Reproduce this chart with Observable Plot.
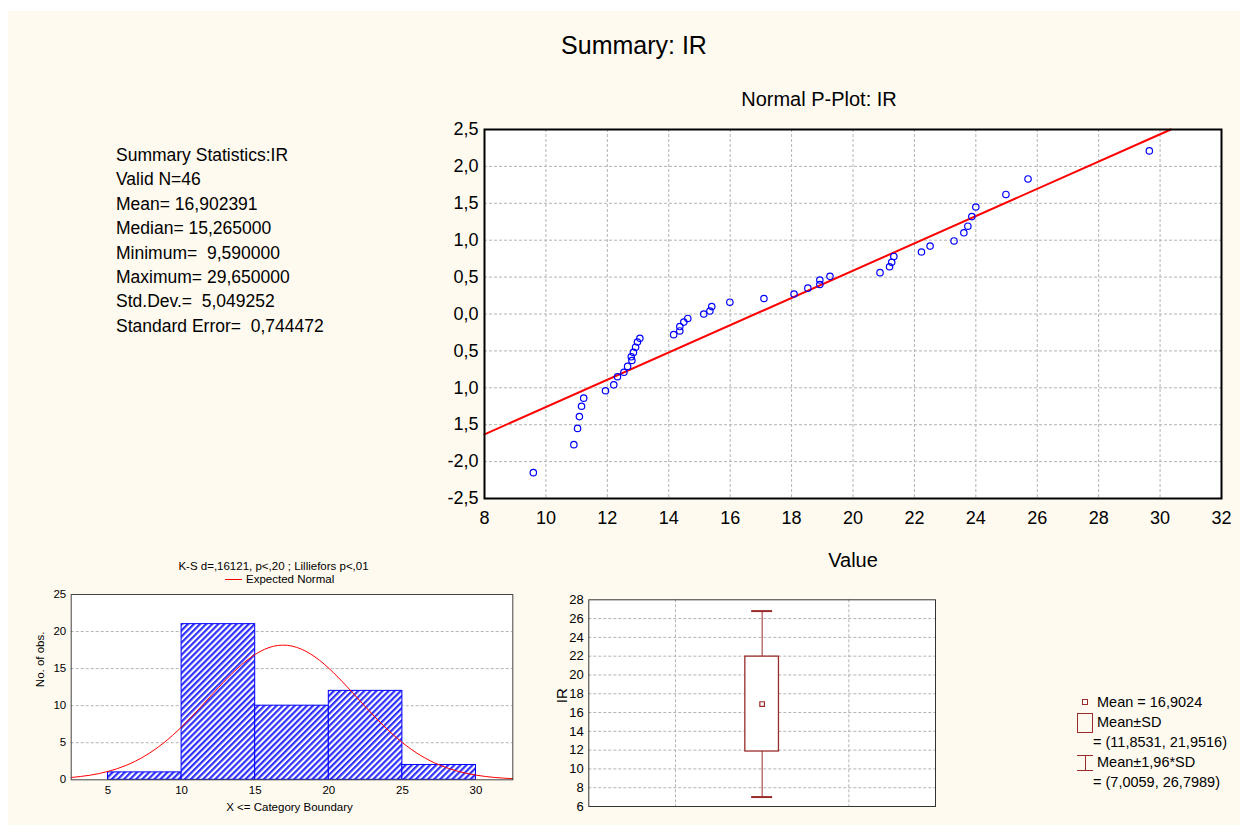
<!DOCTYPE html>
<html><head><meta charset="utf-8">
<script src="https://cdn.jsdelivr.net/npm/d3@7"></script>
<script src="https://cdn.jsdelivr.net/npm/@observablehq/plot@0.6"></script>
<style>
body{margin:0;background:#fff;font-family:"Liberation Sans",Arial,sans-serif;}
#page{position:relative;width:1248px;height:832px;overflow:hidden;}
#bg{position:absolute;left:8px;top:11px;width:1232px;height:814px;background:#fffaef;}
.abs{position:absolute;white-space:pre;color:#000;}
.lg{position:absolute;font-size:14.5px;white-space:pre;transform:translateY(-50%);}
</style></head><body>
<div id="page"><div id="bg"></div>
<div class="abs" id="title" style="left:534px;top:31px;width:200px;text-align:center;font-size:25px;">Summary: IR</div>
<div class="abs" id="stats" style="left:116px;top:143px;font-size:17.5px;line-height:24.4px;"></div>
<div class="abs" id="pplot" style="left:420px;top:85px;"></div>
<div class="abs" id="hist" style="left:0px;top:555px;"></div>
<div class="abs" id="box" style="left:540px;top:585px;"></div>
<div id="boxlegend"></div>
</div>
<script>
// ---------- data ----------
const statsLines = ["Summary Statistics:IR","Valid N=46","Mean= 16,902391","Median= 15,265000","Minimum=  9,590000","Maximum= 29,650000","Std.Dev.=  5,049252","Standard Error=  0,744472"];

// Normal probability plot
const pValues = [9.59, 10.91, 11.03, 11.09, 11.16, 11.23, 11.94, 12.21, 12.33, 12.54, 12.66, 12.80, 12.78, 12.85, 12.92, 12.98, 13.06, 14.16, 14.36, 14.36, 14.49, 14.62, 15.14, 15.34, 15.40, 15.99, 17.10, 18.08, 18.53, 18.92, 18.92, 19.25, 20.88, 21.19, 21.26, 21.33, 22.23, 22.51, 23.29, 23.61, 23.74, 23.87, 24.00, 24.98, 25.70, 29.65];
const pExpected = [-2.15, -1.77, -1.55, -1.39, -1.25, -1.14, -1.04, -0.96, -0.85, -0.79, -0.71, -0.63, -0.58, -0.52, -0.45, -0.38, -0.33, -0.28, -0.23, -0.17, -0.11, -0.06, 0.00, 0.04, 0.10, 0.16, 0.21, 0.27, 0.35, 0.40, 0.46, 0.51, 0.56, 0.64, 0.70, 0.78, 0.84, 0.92, 0.99, 1.10, 1.19, 1.32, 1.45, 1.62, 1.83, 2.21];
const pLineX = [8, 30.35];
const pLineY = [-1.63, 2.5];
const pTicksX = [8, 10, 12, 14, 16, 18, 20, 22, 24, 26, 28, 30, 32];
const pTicksY = [2.5, 2, 1.5, 1, 0.5, 0, -0.5, -1, -1.5, -2, -2.5];
const pTickLabelsY = ["2,5", "2,0", "1,5", "1,0", "0,5", "0,0", "0,5", "1,0", "1,5", "-2,0", "-2,5"];

// Histogram
const binLo = [5, 10, 15, 20, 25];
const binHi = [10, 15, 20, 25, 30];
const binCounts = [1, 21, 10, 12, 2];
const normX = [2.5, 3.75, 5, 6.25, 7.5, 8.75, 10, 11.25, 12.5, 13.75, 15, 16.25, 17.5, 18.75, 20, 21.25, 22.5, 23.75, 25, 26.25, 27.5, 28.75, 30, 31.25, 32.5];
const normY = [0.31, 0.61, 1.13, 1.96, 3.21, 4.93, 7.14, 9.72, 12.43, 14.95, 16.92, 18.02, 18.04, 16.99, 15.05, 12.54, 9.83, 7.24, 5.02, 3.27, 2.01, 1.16, 0.63, 0.32, 0.15];
const histTicksX = [5, 10, 15, 20, 25, 30];
const histTicksY = [0, 5, 10, 15, 20, 25];

// Box plot (mean, ±SD, ±1.96 SD)
const boxMean = [16.9024];
const boxSD = [11.8531, 21.9516];
const boxCI = [7.0059, 26.7989];
const boxTicksY = [6, 8, 10, 12, 14, 16, 18, 20, 22, 24, 26, 28];
const legendLabels = ["Mean = 16,9024", "Mean±SD", "= (11,8531, 21,9516)", "Mean±1,96*SD", "= (7,0059, 26,7989)"];

// ---------- stats text ----------
document.getElementById("stats").textContent = statsLines.join("\n");

const font = '"Liberation Sans", Arial, sans-serif';
const grid = {stroke: "#b4b4b4", strokeDasharray: "3,2", strokeWidth: 1};

// ---------- P-plot ----------
const pIdx = d3.range(pValues.length);
const pLabelMap = new Map(pTicksY.map((v, i) => [v, pTickLabelsY[i]]));
const pplot = Plot.plot({
  width: 820, height: 490,
  marginLeft: 64, marginTop: 44, marginRight: 19, marginBottom: 77,
  style: {background: "transparent", fontFamily: font, fontSize: "18px", color: "#000", overflow: "visible"},
  x: {domain: [8, 32], ticks: pTicksX, tickSize: 0, tickPadding: 13, label: null},
  y: {domain: [-2.5, 2.5], ticks: pTicksY, tickSize: 0, tickPadding: 6, label: null, tickFormat: d => pLabelMap.get(d)},
  marks: [
    Plot.frame({fill: "white"}),
    Plot.ruleX(pTicksX.slice(1, -1), grid),
    Plot.ruleY(pTicksY.slice(1, -1), grid),
    Plot.line(d3.range(pLineX.length), {x: i => pLineX[i], y: i => pLineY[i], stroke: "#ff0000", strokeWidth: 2}),
    Plot.dot(pIdx, {x: i => pValues[i], y: i => pExpected[i], r: 3.2, stroke: "#0000ff", fill: "none", strokeWidth: 1.2}),
    Plot.frame({stroke: "#000", strokeWidth: 2}),
    Plot.text(["Normal P-Plot: IR"], {frameAnchor: "top", lineAnchor: "middle", text: d => d, dy: -29.5, dx: -34, fontSize: 20}),
    Plot.text(["Value"], {frameAnchor: "bottom", lineAnchor: "middle", text: d => d, dy: 62, fontSize: 20})
  ]
});
document.getElementById("pplot").appendChild(pplot);

// ---------- Histogram ----------
const hIdx = d3.range(binLo.length);
const hist = Plot.plot({
  width: 530, height: 260,
  marginLeft: 70.7, marginTop: 39, marginRight: 17.7, marginBottom: 35.7,
  style: {background: "transparent", fontFamily: font, fontSize: "11.5px", color: "#000", overflow: "visible"},
  x: {domain: [2.5, 32.5], ticks: histTicksX, tickSize: 0, tickPadding: 6, label: null},
  y: {domain: [0, 25], ticks: histTicksY, tickSize: 0, tickPadding: 5, label: null},
  marks: [
    Plot.frame({fill: "white"}),
    Plot.ruleY(histTicksY.slice(1, -1), grid),
    Plot.rect(hIdx, {x1: i => binLo[i], x2: i => binHi[i], y1: 0, y2: i => binCounts[i], fill: "url(#hatch)", stroke: "#0000ff", strokeWidth: 1}),
    Plot.line(d3.range(normX.length), {x: i => normX[i], y: i => normY[i], stroke: "#ff0000", strokeWidth: 1, curve: "natural"}),
    Plot.frame({stroke: "#444", strokeWidth: 1}),
    Plot.text(["K-S d=,16121, p<,20 ; Lilliefors p<,01"], {frameAnchor: "top", lineAnchor: "middle", text: d => d, dy: -28, dx: -18.5, fontSize: 11.5}),
    Plot.text(["No. of obs."], {frameAnchor: "left", lineAnchor: "middle", text: d => d, dx: -31, rotate: -90, fontSize: 11.5}),
    Plot.text(["X <= Category Boundary"], {frameAnchor: "bottom", lineAnchor: "middle", text: d => d, dy: 27.7, dx: -2.5, fontSize: 11.5})
  ]
});
const hdefs = d3.select(hist).insert("defs", ":first-child");
const pat = hdefs.append("pattern").attr("id", "hatch").attr("patternUnits", "userSpaceOnUse")
  .attr("width", 4.3).attr("height", 4.3).attr("patternTransform", "rotate(45)");
pat.append("rect").attr("width", 4.3).attr("height", 4.3).attr("fill", "#ffffff");
pat.append("rect").attr("width", 2.2).attr("height", 4.3).attr("fill", "#3030ff");
document.getElementById("hist").appendChild(hist);

// histogram legend (Expected Normal)
const hl = document.createElement("div");
hl.style.cssText = "position:absolute;left:225px;top:579px;transform:translateY(-50%);display:flex;align-items:center;font-size:11.5px;white-space:pre;";
hl.innerHTML = '<span style="display:inline-block;width:17px;height:0;border-top:1px solid #ff0000;margin-right:4px"></span><span>Expected Normal</span>';
document.getElementById("page").appendChild(hl);

// ---------- Box plot ----------
const dark = "#9a2b2b";
const bx = 2;
const box = Plot.plot({
  width: 420, height: 235,
  marginLeft: 48.3, marginTop: 14.3, marginRight: 25, marginBottom: 14,
  style: {background: "transparent", fontFamily: font, fontSize: "13px", color: "#000", overflow: "visible"},
  x: {domain: [0, 4], axis: null},
  y: {domain: [6, 28], ticks: boxTicksY, tickSize: 0, tickPadding: 5, label: null},
  marks: [
    Plot.frame({fill: "white"}),
    Plot.ruleY(boxTicksY.slice(1, -1), grid),
    Plot.ruleX([1, 3], grid),
    Plot.ruleX([bx], {y1: boxCI[0], y2: boxSD[0], stroke: dark, strokeWidth: 1}),
    Plot.ruleX([bx], {y1: boxSD[1], y2: boxCI[1], stroke: dark, strokeWidth: 1}),
    Plot.ruleY(boxCI, {x1: bx - 0.121, x2: bx + 0.121, stroke: dark, strokeWidth: 2}),
    Plot.rect([0], {x1: bx - 0.194, x2: bx + 0.194, y1: boxSD[0], y2: boxSD[1], fill: "white", stroke: dark, strokeWidth: 1.3}),
    Plot.dot(boxMean, {x: bx, y: d => d, symbol: "square", r: 2.6, stroke: dark, fill: "white", strokeWidth: 1.2}),
    Plot.frame({stroke: "#333", strokeWidth: 1}),
    Plot.text(["IR"], {frameAnchor: "left", lineAnchor: "middle", text: d => d, dx: -27, rotate: -90, fontSize: 15})
  ]
});
document.getElementById("box").appendChild(box);

// box legend
const lgRoot = document.getElementById("boxlegend");
const lgPos = [[1097, 702], [1097, 722], [1093, 742], [1097, 762], [1093, 782]];
legendLabels.forEach((t, i) => {
  const d = document.createElement("div");
  d.className = "lg";
  d.style.left = lgPos[i][0] + "px";
  d.style.top = lgPos[i][1] + "px";
  d.textContent = t;
  lgRoot.appendChild(d);
});
const g1 = document.createElement("div");
g1.style.cssText = `position:absolute;left:1082px;top:699px;width:4px;height:4px;border:1px solid ${dark};background:#fff;`;
const g2 = document.createElement("div");
g2.style.cssText = `position:absolute;left:1077px;top:713px;width:14px;height:18px;border:1.3px solid ${dark};`;
const g3 = document.createElement("div");
g3.style.cssText = `position:absolute;left:1077px;top:755px;width:16px;height:16px;`;
g3.innerHTML = `<div style="position:absolute;left:0;top:0;width:16px;border-top:1.5px solid ${dark}"></div><div style="position:absolute;left:7.5px;top:0;height:16px;border-left:1px solid ${dark}"></div><div style="position:absolute;left:0;top:15px;width:16px;border-top:1.5px solid ${dark}"></div>`;
[g1, g2, g3].forEach(g => lgRoot.appendChild(g));
</script>
</body></html>
